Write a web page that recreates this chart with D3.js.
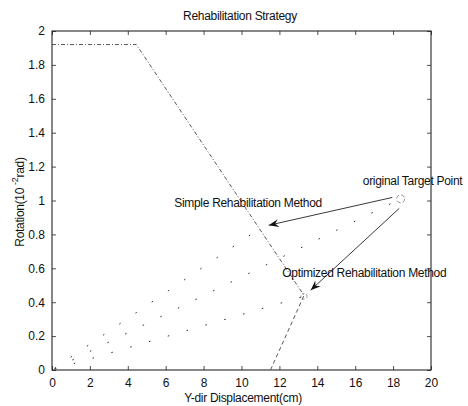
<!DOCTYPE html>
<html>
<head>
<meta charset="utf-8">
<script src="https://cdn.jsdelivr.net/npm/d3@7"></script>
<style>
  html, body { margin: 0; padding: 0; background: #fff; }
  svg { display: block; font-family: "Liberation Sans", Arial, Helvetica, sans-serif; }
</style>
</head>
<body>
<svg id="chart" width="468" height="406"></svg>
<script>
// ---- data ----
const xTicks = [0, 2, 4, 6, 8, 10, 12, 14, 16, 18, 20];
const yTicks = [0, 0.2, 0.4, 0.6, 0.8, 1, 1.2, 1.4, 1.6, 1.8, 2];
const yTickLabels = ["0", "0.2", "0.4", "0.6", "0.8", "1", "1.2", "1.4", "1.6", "1.8", "2"];
const titleText = "Rehabilitation Strategy";
const xLabel = "Y-dir Displacement(cm)";
const yLabelMain = "Rotation(10";
const yLabelSup = "-2";
const yLabelTail = "rad)";

// simple rehabilitation path (x, y)
const simplePathX = [0, 4.45, 13.3];
const simplePathY = [1.92, 1.92, 0.44];
// optimized rehabilitation path
const optPathX = [11.53, 13.3];
const optPathY = [0, 0.44];
// key points
const targetPoint = [18.4, 1.01];
const optimizedPoint = [13.3, 0.435];
const simplePoint = [10.9, 0.83];
// dotted rays from origin
const rayEnds = [simplePoint, targetPoint, optimizedPoint];

// annotations: [text, x, y]
const labelTexts = ["Simple Rehabilitation Method", "original Target Point", "Optimized Rehabilitation Method"];
const labelX = [6.45, 16.4, 12.15];
const labelY = [0.96, 1.09, 0.548];
// arrows: start -> tip
const arrowFromX = [17.96, 18.32];
const arrowFromY = [1.018, 0.953];
const arrowToX = [11.44, 13.65];
const arrowToY = [0.854, 0.471];

// ---- layout ----
const svg = d3.select("#chart");
const x = d3.scaleLinear().domain([0, 20]).range([52, 431]);
const y = d3.scaleLinear().domain([0, 2]).range([370, 31]);
const fmtY = d => yTickLabels[yTicks.indexOf(d)];

// axes box
svg.append("rect")
  .attr("x", x(0)).attr("y", y(2))
  .attr("width", x(20) - x(0)).attr("height", y(0) - y(2))
  .attr("fill", "none").attr("stroke", "#111").attr("stroke-width", 1);

function styleAxis(g) {
  g.select(".domain").remove();
  g.selectAll(".tick line").attr("stroke", "#222").attr("stroke-width", 0.8);
  g.selectAll(".tick text").attr("fill", "#111").attr("font-size", 12)
    .attr("font-family", "Liberation Sans, Arial, sans-serif");
}

svg.append("g").attr("transform", `translate(0,${y(0)})`)
  .call(d3.axisBottom(x).tickValues(xTicks).tickSize(-4).tickPadding(8).tickFormat(d3.format("d")))
  .call(styleAxis);
svg.append("g").attr("transform", `translate(0,${y(2)})`)
  .call(d3.axisTop(x).tickValues(xTicks).tickSize(-4).tickFormat(""))
  .call(styleAxis);
svg.append("g").attr("transform", `translate(${x(0)},0)`)
  .call(d3.axisLeft(y).tickValues(yTicks).tickSize(-4).tickPadding(7).tickFormat(fmtY))
  .call(styleAxis);
svg.append("g").attr("transform", `translate(${x(20)},0)`)
  .call(d3.axisRight(y).tickValues(yTicks).tickSize(-4).tickFormat(""))
  .call(styleAxis);

const line = d3.line().x(d => x(d[0])).y(d => y(d[1]));

// dotted rays from origin
svg.append("g").selectAll("path").data(rayEnds).join("path")
  .attr("d", d => line([[0, 0], d]))
  .attr("fill", "none").attr("stroke", "#333").attr("stroke-width", 1)
  .attr("stroke-dasharray", "1.6,18").attr("stroke-dashoffset", 16.6);

// simple path
svg.append("path")
  .attr("d", line(simplePathX.map((v, i) => [v, simplePathY[i]])))
  .attr("fill", "none").attr("stroke", "#444").attr("stroke-width", 0.9)
  .attr("stroke-dasharray", "4,2,1,2");

// optimized path
svg.append("path")
  .attr("d", line(optPathX.map((v, i) => [v, optPathY[i]])))
  .attr("fill", "none").attr("stroke", "#444").attr("stroke-width", 0.9)
  .attr("stroke-dasharray", "4,3");

// point markers
svg.append("circle").attr("cx", x(targetPoint[0])).attr("cy", y(targetPoint[1])).attr("r", 4)
  .attr("fill", "none").attr("stroke", "#777").attr("stroke-width", 0.8).attr("stroke-dasharray", "4,2.3");
svg.append("circle").attr("cx", x(optimizedPoint[0])).attr("cy", y(optimizedPoint[1])).attr("r", 3)
  .attr("fill", "none").attr("stroke", "#777").attr("stroke-width", 0.8).attr("stroke-dasharray", "2,2");

// arrows
arrowFromX.forEach((fx, i) => {
  const x0 = x(fx), y0 = y(arrowFromY[i]);
  const x1 = x(arrowToX[i]), y1 = y(arrowToY[i]);
  svg.append("line").attr("x1", x0).attr("y1", y0).attr("x2", x1).attr("y2", y1)
    .attr("stroke", "#222").attr("stroke-width", 0.9);
  const ang = Math.atan2(y1 - y0, x1 - x0);
  const L = 10, W = 4, N = 6.5;
  const ux = Math.cos(ang), uy = Math.sin(ang);
  const px = -uy, py = ux;
  const pts = [
    [x1, y1],
    [x1 - L * ux + W * px, y1 - L * uy + W * py],
    [x1 - N * ux, y1 - N * uy],
    [x1 - L * ux - W * px, y1 - L * uy - W * py]
  ];
  svg.append("path").attr("d", "M" + pts.map(p => p.join(",")).join("L") + "Z")
    .attr("fill", "#111").attr("stroke", "none");
});

// annotation labels
svg.append("g").selectAll("text").data(labelTexts).join("text")
  .attr("x", (d, i) => x(labelX[i])).attr("y", (d, i) => y(labelY[i]))
  .attr("font-size", 12).attr("letter-spacing", -0.3).attr("fill", "#111")
  .text(d => d);

// title
svg.append("text").attr("x", 240).attr("y", 20).attr("text-anchor", "middle")
  .attr("font-size", 12).attr("letter-spacing", -0.3).attr("fill", "#111").text(titleText);

// x label
svg.append("text").attr("x", 243).attr("y", 402).attr("text-anchor", "middle")
  .attr("font-size", 12).attr("letter-spacing", -0.3).attr("fill", "#111").text(xLabel);

// y label
const yl = svg.append("text").attr("transform", "translate(24,202) rotate(-90)")
  .attr("text-anchor", "middle").attr("font-size", 12).attr("letter-spacing", -0.3).attr("fill", "#111");
yl.append("tspan").text(yLabelMain + "  ");
yl.append("tspan").attr("dy", -6).attr("font-size", 9).text(yLabelSup);
yl.append("tspan").attr("dy", 6).text(yLabelTail);
</script>
</body>
</html>
